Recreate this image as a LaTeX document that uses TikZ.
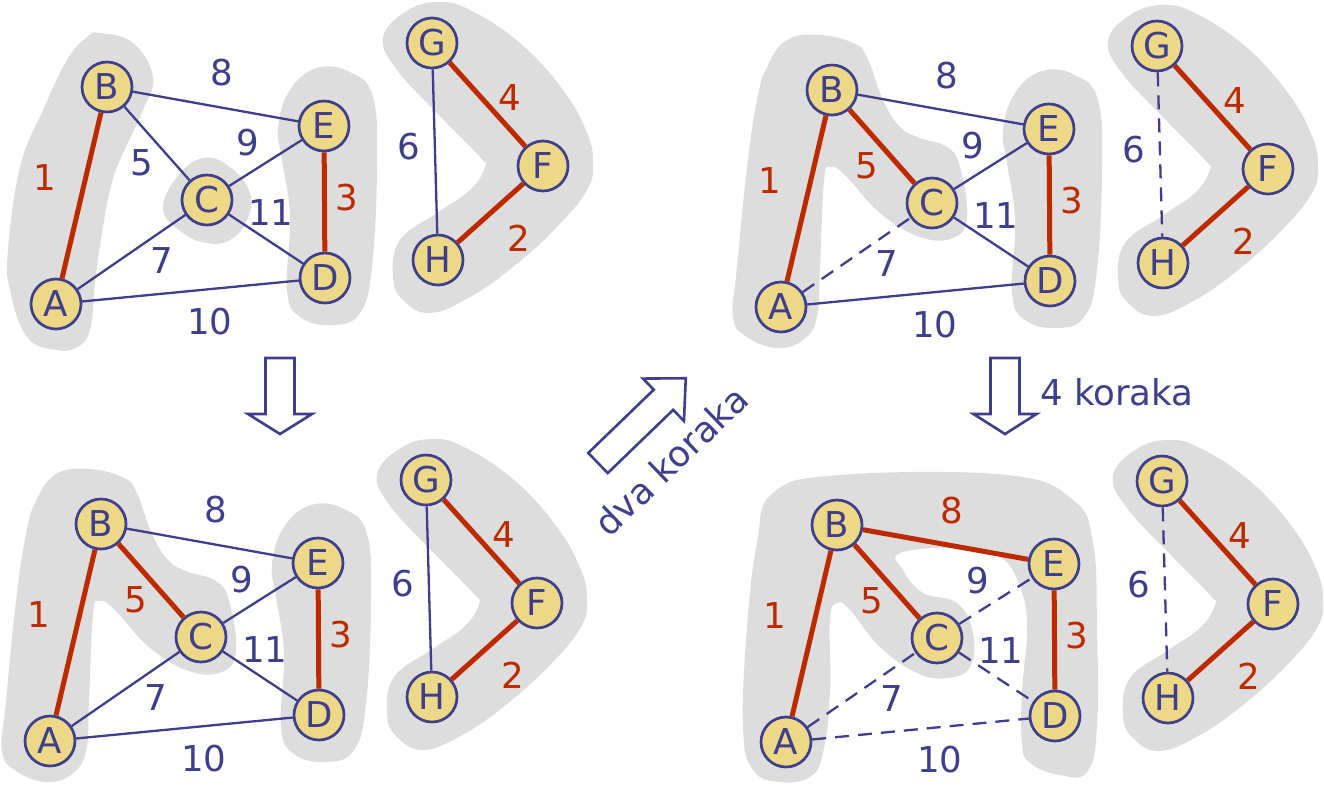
\documentclass[tikz,border=0pt]{standalone}
\usepackage{fontspec}
\setmainfont{DejaVu Sans}
\usepackage{tikz}
\usepackage{xcolor}
\definecolor{edgeblue}{RGB}{62,62,140}
\definecolor{treered}{RGB}{190,42,0}
\definecolor{vfill}{RGB}{236,216,134}
\definecolor{blobgray}{RGB}{221,221,221}
\tikzset{
  every node/.style={font=\fontsize{17.8pt}{21pt}\selectfont},
  vertex/.style={circle,draw=edgeblue,fill=vfill,line width=1.35pt,minimum size=25pt,inner sep=0pt,text=edgeblue},
  wt/.style={inner sep=0pt},
  plain/.style={edgeblue,line width=1.15pt},
  mst/.style={treered,line width=2.5pt},
  skip/.style={edgeblue,line width=1.15pt,dash pattern=on 7pt off 4.5pt},
  blob/.style={fill=blobgray},
  hollowarrow/.style={draw=edgeblue,line width=1.3pt,fill=white},
  steptext/.style={text=edgeblue},
  % default edge looks, changed per panel
  ab/.style=mst, de/.style=mst, gf/.style=mst, fh/.style=mst,
  bc/.style=plain, be/.style=plain, ce/.style=plain, cd/.style=plain,
  ac/.style=plain, ad/.style=plain, gh/.style=plain,
}

% one graph, drawn in panel coordinates
\newcommand{\kgraph}{%
  \node[vertex] (A) at (56,304) {A};
  \node[vertex] (B) at (107,87) {B};
  \node[vertex] (C) at (207,200) {C};
  \node[vertex] (D) at (325,278) {D};
  \node[vertex] (E) at (324,126) {E};
  \node[vertex] (G) at (432,43) {G};
  \node[vertex] (F) at (543,166) {F};
  \node[vertex] (H) at (438,260) {H};
  \draw[ab] (A) -- (B);
  \draw[bc] (B) -- (C);
  \draw[be] (B) -- (E);
  \draw[ce] (C) -- (E);
  \draw[cd] (C) -- (D);
  \draw[ac] (A) -- (C);
  \draw[ad] (A) -- (D);
  \draw[de] (E) -- (D);
  \draw[gf] (G) -- (F);
  \draw[fh] (F) -- (H);
  \draw[gh] (G) -- (H);
  \node[wt,ab] (wAB) at (45,178) {1};
  \node[wt,be] (wBE) at (222,73) {8};
  \node[wt,bc] (wBC) at (142,163) {5};
  \node[wt,ce] (wCE) at (248,143) {9};
  \node[wt,cd] (wCD) at (271,213) {11};
  \node[wt,de] (wDE) at (347,198) {3};
  \node[wt,ac] (wAC) at (162,261) {7};
  \node[wt,ad] (wAD) at (210,322) {10};
  \node[wt,gf] (wGF) at (510,98) {4};
  \node[wt,gh] (wGH) at (409,147) {6};
  \node[wt,fh] (wFH) at (519,238) {2};
}

% grey clusters
\newcommand{\blobAB}{\fill[blob] plot[smooth cycle,tension=0.7] coordinates {(100,33) (133,43) (153,77) (143,110) (120,160) (110,190) (102,233) (95,283) (90,330) (77,347) (57,350) (27,337) (10,290) (8,250) (20,167) (43,110) (67,60) (87,37)};}
\newcommand{\blobC}{\fill[blob] plot[smooth cycle,tension=0.7] coordinates {(163,210) (177,177) (203,158) (230,167) (250,193) (247,220) (230,240) (207,243) (183,233)};}
\newcommand{\blobDE}{\fill[blob] plot[smooth cycle,tension=0.7] coordinates {(278,127) (290,90) (317,68) (350,72) (373,97) (377,167) (372,267) (360,313) (333,325) (300,317) (287,290) (290,217) (282,160)};}
\newcommand{\blobGFH}{\fill[blob] plot[smooth cycle,tension=0.7] coordinates {(383,38) (405,12) (437,2) (470,10) (520,43) (563,90) (587,133) (593,163) (587,190) (557,227) (513,267) (470,297) (430,313) (403,300) (393,277) (400,240) (437,213) (470,190) (485,167) (480,157) (437,113) (397,70)};}
\newcommand{\blobABC}{\fill[blob] plot[smooth cycle,tension=0.7] coordinates {(95,32) (128,40) (142,54) (158,97) (175,124) (195,135) (222,144) (235,164) (242,214) (228,235) (195,234) (155,210) (120,172) (105,164) (99,178) (95,264) (92,314) (78,337) (52,345) (22,334) (8,314) (12,264) (22,164) (32,97) (42,64) (62,37)};}
\newcommand{\blobAll}{\fill[blob] plot[smooth cycle,tension=0.7] coordinates {(43,55) (110,37) (277,37) (343,62) (363,105) (367,189) (367,289) (357,334) (330,337) (300,325) (292,305) (292,255) (297,189) (290,149) (270,119) (227,110) (170,115) (173,132) (193,155) (227,165) (243,195) (240,229) (217,240) (187,235) (150,209) (120,172) (107,165) (100,182) (100,255) (93,315) (80,339) (50,344) (23,332) (13,289) (17,189) (27,105)};}

\begin{document}
\begin{tikzpicture}[x=0.5pt,y=-0.5pt]
\useasboundingbox (0,0) rectangle (1324,805);

% start
\begin{scope}[name prefix=p1-]
  \blobAB \blobC \blobDE \blobGFH
  \kgraph
\end{scope}

% after two steps
\begin{scope}[name prefix=p2-,shift={(725,3)},bc/.style=mst,ac/.style=skip,gh/.style=skip]
  \blobABC \blobDE \blobGFH
  \kgraph
\end{scope}

% one step
\begin{scope}[name prefix=p3-,shift={(-6,437)},bc/.style=mst]
  \blobABC \blobDE \blobGFH
  \kgraph
\end{scope}

% after four more steps
\begin{scope}[name prefix=p4-,shift={(730,438)},bc/.style=mst,be/.style=mst,
    ce/.style=skip,cd/.style=skip,ac/.style=skip,ad/.style=skip,gh/.style=skip]
  \blobAll \blobGFH
  \kgraph
\end{scope}

% step arrows
\draw[hollowarrow,shift={(280,358)}] (-14.5,0) -- (14.5,0) -- (14.5,56) -- (32,56) -- (0,76) -- (-32,56) -- (-14.5,56) -- cycle;
\draw[hollowarrow,shift={(1005,358)}] (-14.5,0) -- (14.5,0) -- (14.5,56) -- (31.5,56) -- (0,76) -- (-31.5,56) -- (-14.5,56) -- cycle;
\draw[hollowarrow,shift={(598,463)},rotate=44] (0,-14) -- (91,-14) -- (91,-29.5) -- (122,0) -- (91,29.5) -- (91,14) -- (0,14) -- cycle;

\node[steptext,rotate=44] (twostep) at (671,461) {dva koraka};
\node[steptext,anchor=base west] (fourstep) at (1033,405) {4 koraka};

\end{tikzpicture}
\end{document}
